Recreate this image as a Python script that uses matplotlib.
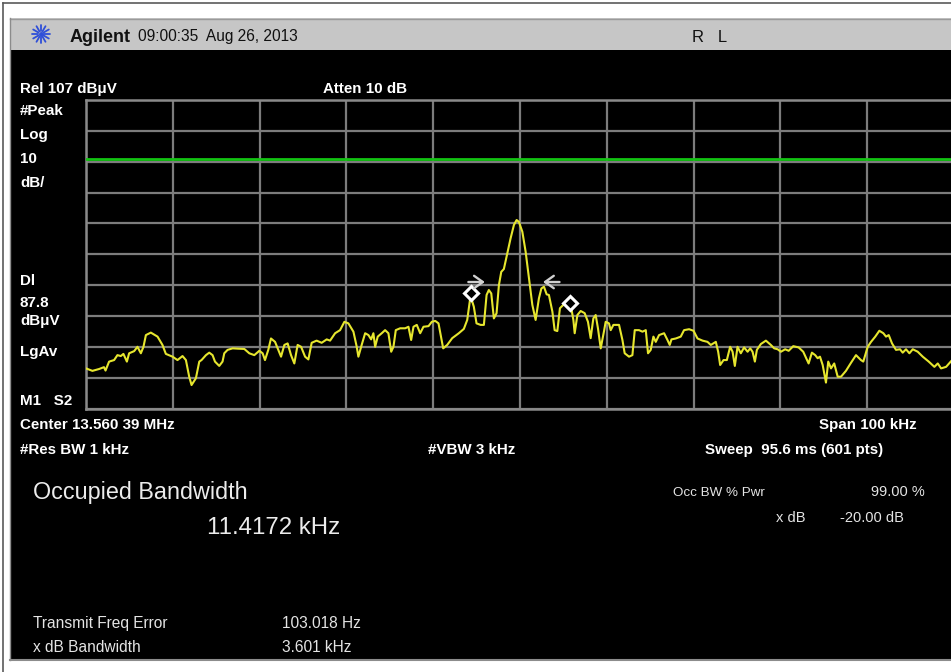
import numpy as np
import matplotlib
matplotlib.use("Agg")
import matplotlib.pyplot as plt
from matplotlib import font_manager
from matplotlib.patches import Rectangle

# ---------------------------------------------------------------------------
# Measurement settings
# ---------------------------------------------------------------------------
REF_LEVEL = 107.0          # dBuV, top of the graticule
DB_PER_DIV = 10.0
N_DIV = 10
SPAN_KHZ = 100.0
DISPLAY_LINE = 87.8        # dBuV
OBW_KHZ = 11.4172
FREQ_ERR_HZ = 103.018
XDB_BW_KHZ = 3.601

# Trace: frequency offset from centre (kHz) and level (dBuV)
freq_khz = [
    -50.00, -49.26, -48.49, -47.93, -47.75, -47.34, -46.76, -46.38, -45.99, -45.69,
    -45.29, -45.03, -44.45, -44.07, -43.68, -43.38, -43.10, -42.53, -41.76, -41.19,
    -40.80, -40.03, -39.46, -38.88, -38.49, -38.11, -37.84, -37.34, -36.95, -36.69,
    -36.18, -35.80, -35.42, -35.14, -34.65, -34.27, -34.07, -33.69, -33.11, -32.54,
    -31.76, -31.19, -30.61, -30.03, -29.65, -29.38, -29.00, -28.69, -28.22, -27.84,
    -27.53, -27.15, -26.77, -26.38, -26.00, -25.62, -25.22, -24.76, -24.38, -24.00,
    -23.43, -22.85, -22.27, -21.88, -21.30, -20.73, -20.23, -19.77, -19.19, -18.81,
    -18.62, -18.24, -17.84, -17.46, -17.15, -16.89, -16.69, -16.39, -15.93, -15.54,
    -15.16, -14.84, -14.58, -14.31, -13.81, -13.23, -12.85, -12.54, -12.27, -11.89,
    -11.50, -11.12, -10.54, -10.16, -9.77, -9.39, -9.24, -8.85, -8.39, -7.81,
    -7.05, -6.47, -6.08, -5.70, -5.32, -5.01, -4.54, -4.16, -3.85, -3.59,
    -3.31, -3.01, -2.70, -2.43, -2.16, -1.86, -1.55, -1.08, -0.70, -0.39,
    -0.13, 0.27, 0.65, 1.03, 1.42, 1.80, 2.18, 2.46, 2.76, 3.07,
    3.33, 3.73, 3.99, 4.30, 4.60, 4.99, 5.46, 5.84, 6.15, 6.30,
    6.61, 6.99, 7.45, 7.83, 8.14, 8.45, 8.72, 8.98, 9.30, 9.70,
    9.87, 10.25, 10.45, 10.76, 11.41, 11.80, 12.06, 12.56, 12.95, 13.22,
    13.71, 14.11, 14.49, 14.75, 15.06, 15.37, 15.64, 16.02, 16.60, 16.99,
    17.25, 17.45, 17.95, 18.52, 18.90, 19.48, 19.99, 20.45, 21.03, 21.60,
    21.98, 22.56, 22.83, 23.06, 23.45, 23.83, 24.21, 24.49, 24.75, 25.06,
    25.44, 25.82, 26.22, 26.52, 26.79, 27.06, 27.29, 27.75, 28.33, 28.90,
    29.28, 29.68, 30.06, 30.55, 30.95, 31.48, 32.10, 32.63, 33.25, 33.63,
    34.01, 34.29, 34.56, 34.87, 35.25, 35.51, 35.83, 36.20, 36.60, 36.98,
    37.55, 38.13, 38.71, 39.28, 39.55, 40.06, 40.44, 40.93, 41.40, 41.86,
    42.17, 42.48, 42.86, 43.32, 43.78, 44.09, 44.47, 44.86, 45.25, 45.82,
    46.40, 47.09, 47.74, 48.13, 48.51, 49.09, 49.78,
]
level_dbuv = [
    20.0, 19.2, 19.8, 20.4, 19.3, 22.2, 22.7, 24.3, 24.0, 24.7,
    22.2, 24.9, 25.6, 27.0, 24.9, 27.0, 30.8, 31.6, 30.3, 27.6,
    24.7, 23.8, 22.7, 24.0, 22.7, 17.3, 14.6, 16.8, 22.2, 22.7,
    24.3, 25.1, 24.3, 22.2, 20.8, 22.2, 24.9, 26.0, 26.5, 26.4,
    26.3, 24.9, 24.3, 25.7, 24.9, 22.7, 26.0, 29.7, 28.6, 26.0,
    23.8, 27.6, 28.1, 24.3, 21.6, 27.6, 27.0, 23.8, 22.9, 28.3,
    29.0, 28.3, 29.4, 29.0, 31.4, 32.4, 35.1, 34.6, 31.9, 27.0,
    23.8, 27.6, 31.4, 30.8, 29.4, 31.4, 27.0, 30.3, 31.4, 32.4,
    31.4, 25.4, 27.0, 32.4, 33.0, 33.0, 33.5, 29.2, 33.5, 34.1,
    31.4, 33.5, 33.7, 35.1, 35.4, 34.6, 32.4, 26.5, 27.6, 29.8,
    31.4, 32.8, 35.7, 43.5, 40.0, 34.6, 34.1, 34.1, 43.8, 45.4,
    44.3, 36.2, 37.9, 47.0, 51.3, 52.2, 56.2, 62.2, 66.5, 68.1,
    67.5, 64.3, 57.8, 49.2, 40.6, 35.7, 42.7, 45.9, 46.5, 44.0,
    43.8, 38.4, 32.4, 32.1, 39.5, 40.6, 40.6, 40.6, 35.7, 31.4,
    37.3, 38.6, 37.9, 35.1, 29.8, 36.2, 37.3, 33.0, 26.5, 32.4,
    35.1, 34.6, 32.4, 34.1, 34.1, 29.2, 24.9, 23.8, 24.3, 32.4,
    32.4, 31.9, 32.4, 24.9, 26.0, 30.3, 28.6, 30.8, 31.4, 29.2,
    27.6, 29.4, 29.7, 30.3, 32.4, 32.7, 32.2, 29.7, 29.0, 28.6,
    27.6, 28.6, 25.4, 21.1, 22.7, 22.7, 27.0, 25.4, 20.8, 27.0,
    24.9, 26.8, 25.4, 26.5, 25.4, 22.2, 26.0, 27.9, 29.0, 27.6,
    26.5, 26.2, 25.4, 26.2, 25.7, 27.2, 26.8, 25.4, 21.6, 25.1,
    24.3, 23.3, 23.8, 21.1, 15.4, 22.2, 20.0, 21.6, 17.3, 17.3,
    19.2, 21.8, 24.3, 22.7, 22.2, 27.0, 28.6, 30.3, 32.2, 31.4,
    30.3, 30.8, 28.1, 26.0, 26.2, 25.1, 26.2, 24.9, 26.2, 25.4,
    23.8, 22.2, 20.5, 21.6, 20.0, 20.5, 22.7,
]

# Occupied-bandwidth markers (diamonds) and x dB arrows
obw_marker_levels = [44.4, 41.1]
xdb_arrow_level = 48.0
xdb_arrow_tails = [-5.95, 4.55]
xdb_arrow_heads = [-4.05, 2.65]

# ---------------------------------------------------------------------------
# Fonts
# ---------------------------------------------------------------------------
_names = {f.name for f in font_manager.fontManager.ttflist}
SANS = "Liberation Sans" if "Liberation Sans" in _names else "DejaVu Sans"
FAM = [SANS, "DejaVu Sans"]

W, H = 951, 672
fig = plt.figure(figsize=(W / 100, H / 100), dpi=100, facecolor="white")

# Screen furniture in pixel coordinates
bg = fig.add_axes([0, 0, 1, 1])
bg.set_xlim(0, W)
bg.set_ylim(H, 0)
bg.axis("off")

bg.plot([3, W], [3, 3], color="#5a5a5a", lw=1.2)
bg.plot([3, 3], [3, H], color="#5a5a5a", lw=1.2)
bg.add_patch(Rectangle((10, 18), W - 10, 32, facecolor="#c6c6c6", edgecolor="none"))
bg.plot([10, W], [18.5, 18.5], color="#9a9a9a", lw=1)
bg.add_patch(Rectangle((10, 50), W - 10, 610, facecolor="black", edgecolor="none"))
bg.plot([10, W], [660, 660], color="#8c8c8c", lw=1.5)
bg.plot([10, 10], [18, 660], color="#8c8c8c", lw=1)

# Agilent spark logo
cx, cy = 41, 34
for ang in np.linspace(0, 2 * np.pi, 12, endpoint=False):
    r0, r1 = 3.0, 9.0
    bg.plot([cx + r0 * np.cos(ang), cx + r1 * np.cos(ang)],
            [cy + r0 * np.sin(ang), cy + r1 * np.sin(ang)],
            color="#2f4fd8", lw=1.3, solid_capstyle="round")
bg.plot([cx], [cy], "o", color="#2f4fd8", ms=2.5)


def label(x, y, s, size, weight="normal", color="white", ha="left"):
    bg.text(x, y, s, fontsize=size, fontweight=weight, color=color,
            ha=ha, va="baseline", family=FAM)


BOLD_PT = 10.9

# Header bar
label(70, 41.5, "Agilent", 13, "bold", "#111111")
label(138, 41, "09:00:35  Aug 26, 2013", 11.2, "normal", "#111111")
label(692, 41.5, "R   L", 12, "normal", "#111111")

# Graticule annotations
label(20, 93, "Rel 107 dB\u03bcV", BOLD_PT, "bold")
label(323, 93, "Atten 10 dB", BOLD_PT, "bold")
for yb, s in [(115, "#Peak"), (139.5, "Log"), (163, "10"), (187, "dB/"),
              (285, "Dl"), (307, "87.8"), (325, "dB\u03bcV"), (356, "LgAv"),
              (405, "M1   S2")]:
    label(20, yb, s, BOLD_PT, "bold")

label(20, 429, "Center 13.560 39 MHz", BOLD_PT, "bold")
label(917, 429, "Span 100 kHz", BOLD_PT, "bold", ha="right")
label(20, 454, "#Res BW 1 kHz", BOLD_PT, "bold")
label(428, 454, "#VBW 3 kHz", BOLD_PT, "bold")
label(705, 454, "Sweep  95.6 ms (601 pts)", BOLD_PT, "bold")

# Measurement results
label(33, 499.5, "Occupied Bandwidth", 16.8, color="#ececec")
label(207, 533.5, f"{OBW_KHZ:.4f} kHz", 17.3, color="#ececec")
label(673, 495.5, "Occ BW % Pwr", 9.6, color="#e4e4e4")
label(925, 495.5, "99.00 %", 10.5, color="#e4e4e4", ha="right")
label(806, 522.5, "x dB", 10.5, color="#e4e4e4", ha="right")
label(840, 522.5, "-20.00 dB", 10.5, color="#e4e4e4")
label(33, 628, "Transmit Freq Error", 11.2, color="#e4e4e4")
label(282, 628, f"{FREQ_ERR_HZ:.3f} Hz", 11.2, color="#e4e4e4")
label(33, 652, "x dB Bandwidth", 11.2, color="#e4e4e4")
label(282, 652, f"{XDB_BW_KHZ:.3f} kHz", 11.2, color="#e4e4e4")

# ---------------------------------------------------------------------------
# Spectrum graticule
# ---------------------------------------------------------------------------
left_px, right_px, top_px, bot_px = 86, 954, 100, 408.5
ax = fig.add_axes([left_px / W, 1 - bot_px / H,
                   (right_px - left_px) / W, (bot_px - top_px) / H])
ax.set_facecolor("black")
half = SPAN_KHZ / 2
bottom_level = REF_LEVEL - N_DIV * DB_PER_DIV
ax.set_xlim(-half, half)
ax.set_ylim(bottom_level, REF_LEVEL)
ax.set_xticks(np.linspace(-half, half, N_DIV + 1))
ax.set_yticks(np.linspace(bottom_level, REF_LEVEL, N_DIV + 1))
ax.tick_params(length=0, labelbottom=False, labelleft=False)
ax.grid(True, color="#7c7c7c", lw=1.6)
for sp in ax.spines.values():
    sp.set_color("#8a8a8a")
    sp.set_linewidth(1.8)

ax.axhline(DISPLAY_LINE, color="#12c412", lw=2.0, zorder=3)
ax.plot(freq_khz, level_dbuv, color="#e6e62e", lw=1.5, zorder=4,
        solid_joinstyle="round")

obw_center = FREQ_ERR_HZ / 1000.0
obw_edges = [obw_center - OBW_KHZ / 2, obw_center + OBW_KHZ / 2]
ax.plot(obw_edges, obw_marker_levels, linestyle="none", marker="D", ms=7,
        mfc="black", mec="white", mew=2.2, zorder=6)

for tail, head in zip(xdb_arrow_tails, xdb_arrow_heads):
    ax.annotate("", xy=(head, xdb_arrow_level), xytext=(tail, xdb_arrow_level),
                arrowprops=dict(arrowstyle="->,head_length=0.45,head_width=0.32",
                                color="#d0d0d0", lw=1.7, mutation_scale=14,
                                shrinkA=0, shrinkB=0), zorder=6)

fig.savefig("out.png", dpi=100, facecolor="white")
